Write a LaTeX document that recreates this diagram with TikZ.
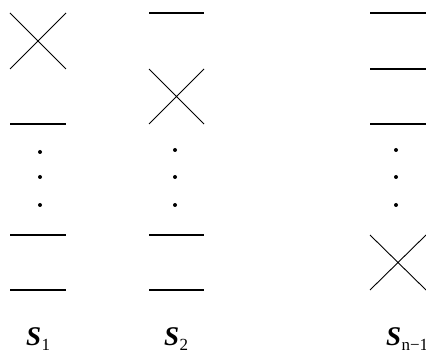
\documentclass[tikz,border=0pt]{standalone}
\usepackage{fontspec}
\setmainfont{Liberation Serif}
\newcommand{\slab}[1]{{\fontsize{27}{27}\selectfont\bfseries\itshape S}\kern0.5pt\raisebox{-5pt}{\fontsize{17}{17}\selectfont\normalfont #1}}
\begin{document}
\begin{tikzpicture}[x=1pt,y=-1pt,
  hline/.style={line width=1.2pt},
  xline/.style={line width=0.9pt},
  dotm/.style={circle,fill=black,inner sep=0pt,minimum size=4pt},
  lab/.style={anchor=base west,inner sep=0pt,outer sep=0pt}]
\useasboundingbox (0,0) rectangle (426,350);
% column 1
\draw[xline] (10,13) -- (66,69) (10,69) -- (66,13);
\draw[hline] (10,124) -- (66,124) (10,235) -- (66,235) (10,290) -- (66,290);
\node[dotm] (d11) at (40,152) {};
\node[dotm] (d12) at (40,177) {};
\node[dotm] (d13) at (40,205) {};
% column 2
\draw[hline] (149,13) -- (204,13);
\draw[xline] (149,69) -- (204,124) (149,124) -- (204,69);
\draw[hline] (149,235) -- (204,235) (149,290) -- (204,290);
\node[dotm] (d21) at (175,150) {};
\node[dotm] (d22) at (175,177) {};
\node[dotm] (d23) at (175,205) {};
% column 3
\draw[hline] (370,13) -- (426,13) (370,69) -- (426,69) (370,124) -- (426,124);
\draw[xline] (370,235) -- (426,290) (370,290) -- (426,235);
\node[dotm] (d31) at (396,150) {};
\node[dotm] (d32) at (396,177) {};
\node[dotm] (d33) at (396,205) {};
% labels
\node[lab] (s1) at (26,345) {\slab{1}};
\node[lab] (s2) at (164,345) {\slab{2}};
\node[lab] (sn) at (386,345) {\slab{n\textminus 1}};
\end{tikzpicture}
\end{document}
